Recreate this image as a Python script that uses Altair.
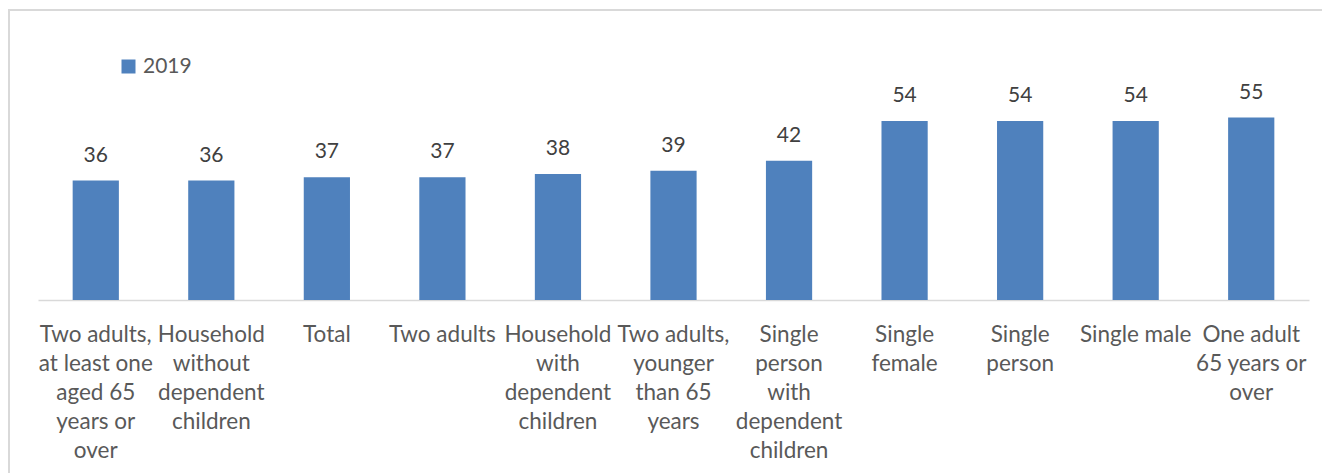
import altair as alt
import pandas as pd

categories = [
    "Two adults,|at least one|aged 65|years or|over",
    "Household|without|dependent|children",
    "Total",
    "Two adults",
    "Household|with|dependent|children",
    "Two adults,|younger|than 65|years",
    "Single|person|with|dependent|children",
    "Single|female",
    "Single|person",
    "Single male",
    "One adult|65 years or|over",
]
values = [36, 36, 37, 37, 38, 39, 42, 54, 54, 54, 55]
series = ["2019"] * len(values)

df = pd.DataFrame({"cat": categories, "value": values, "series": series})

FONT = "Lato"
W, H = 1271, 199

xenc = alt.X(
    "cat:N",
    sort=categories,
    scale=alt.Scale(paddingInner=0.6, paddingOuter=0.3),
    axis=alt.Axis(
        title=None,
        labelAngle=0,
        labelExpr="split(datum.label, '|')",
        labelFont=FONT,
        labelFontSize=22.5,
        labelColor="#595959",
        labelLineHeight=29,
        labelPadding=23,
        labelBaseline="top",
        ticks=False,
        domainColor="#D9D9D9",
        domainWidth=1.5,
        labelLimit=200,
    ),
)
yenc = alt.Y("value:Q", scale=alt.Scale(domain=[0, 60]), axis=None)

bars = alt.Chart(df).mark_bar(color="#4F81BD").encode(
    x=xenc,
    y=yenc,
    color=alt.Color(
        "series:N",
        scale=alt.Scale(range=["#4F81BD"]),
        legend=alt.Legend(
            title=None,
            orient="none",
            legendX=80,
            legendY=-45,
            symbolType="square",
            symbolSize=196,
            symbolStrokeWidth=0,
            labelFont=FONT,
            labelFontSize=21,
            labelColor="#595959",
            labelOffset=4,
        ),
    ),
)

labels = alt.Chart(df).mark_text(
    font=FONT, fontSize=21, color="#404040", baseline="alphabetic", dy=-19
).encode(x=alt.X("cat:N", sort=categories), y="value:Q", text="value:Q")

frame = alt.Chart(pd.DataFrame({"a": [0]})).mark_rect(
    fillOpacity=0, stroke="#D9D9D9", strokeWidth=2
).encode(
    x=alt.value(-29), x2=alt.value(1400), y=alt.value(-91), y2=alt.value(400)
)

chart = (
    alt.layer(frame, bars, labels)
    .properties(
        width=W,
        height=H,
        autosize=alt.AutoSizeParams(type="none"),
        padding={"left": 38, "top": 101, "right": 13, "bottom": 173},
    )
    .configure(background="white")
    .configure_view(stroke="transparent", strokeWidth=0)
)

chart.save("out.html", embed_options={"renderer": "svg", "actions": False})
